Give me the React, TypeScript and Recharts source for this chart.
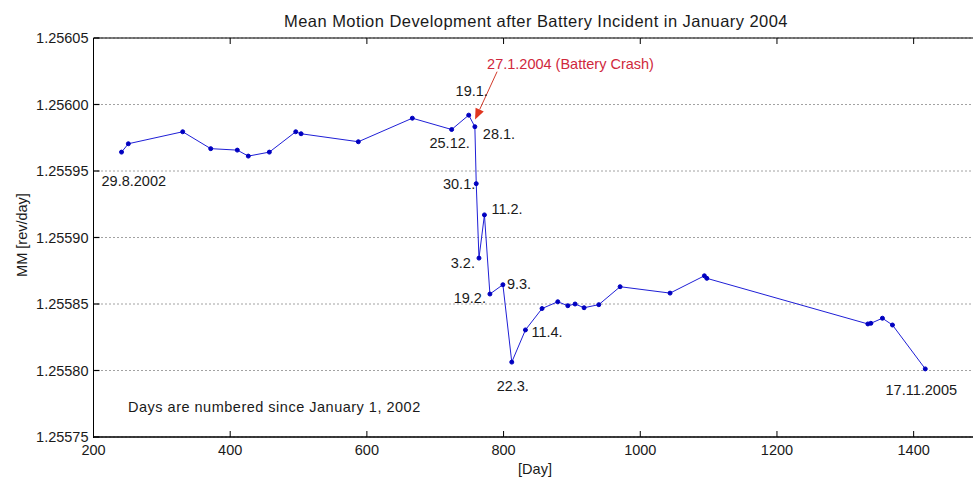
import React from "react";
import { LineChart, Line, XAxis, YAxis, CartesianGrid, LabelList, ReferenceLine } from "recharts";

// ---- data ----
const days = [
  241, 251, 330.5, 371.5, 410.4, 426.5, 457.3, 495.9, 503.7, 587.5, 666.5, 724,
  749, 758, 760, 764, 772, 780, 799, 812, 832, 856.3, 879.3, 894, 904.6, 917.8,
  939.3, 970.5, 1043.6, 1093.8, 1097.4, 1333, 1337.4, 1354.3, 1369, 1417,
];
const meanMotion = [
  1.2559642, 1.2559705, 1.2559795, 1.2559668, 1.2559657, 1.2559612, 1.2559642,
  1.2559795, 1.255978, 1.255972, 1.2559897, 1.2559812, 1.255992, 1.2559833,
  1.2559405, 1.2558845, 1.255917, 1.2558575, 1.2558645, 1.2558063, 1.2558305,
  1.2558466, 1.2558517, 1.2558487, 1.25585, 1.2558472, 1.2558495, 1.255863,
  1.2558582, 1.2558712, 1.2558693, 1.255835, 1.2558355, 1.2558393, 1.2558342,
  1.2558012,
];
const pointLabels = [
  "29.8.2002", "", "", "", "", "", "", "", "", "", "", "25.12.",
  "19.1.", "28.1.", "30.1.", "3.2.", "11.2.", "19.2.", "9.3.", "22.3.", "11.4.", "", "", "", "", "",
  "", "", "", "", "", "", "", "", "", "17.11.2005",
];
const xTicks = [200, 400, 600, 800, 1000, 1200, 1400];
const yTicks = [1.25575, 1.2558, 1.25585, 1.2559, 1.25595, 1.256, 1.25605];
const xDomain = [200, 1500];
const yDomain = [1.25575, 1.25605];
const crashArrow = [
  { x: 790.5, y: 1.2560247 },
  { x: 758.3, y: 1.2559887 },
];
const crashText = "27.1.2004 (Battery Crash)";
const titleText = "Mean Motion Development after Battery Incident in January 2004";
const xLabelText = "[Day]";
const yLabelText = "MM [rev/day]";
const noteText = "Days are numbered since January 1, 2002";

const data = days.map((d, i) => ({ day: d, mm: meanMotion[i], label: pointLabels[i] }));

// ---- styles / layout ----
const FONT = "'Liberation Sans', Arial, sans-serif";
const FS = 14.5;
const TXT = "#1a1a1a";
const AXIS = "#000";
const CHART_W = 1000;
const CHART_H = 477;
const MARGIN = { top: 38, right: 18, bottom: 0, left: 0 };
const Y_AXIS_W = 93.5;
const X_AXIS_H = 40;
const PLOT_W = CHART_W - MARGIN.right - Y_AXIS_W;
const PLOT_H = CHART_H - MARGIN.top - X_AXIS_H;
const TICK_PX = 6;
const xPerPx = (xDomain[1] - xDomain[0]) / PLOT_W;
const yPerPx = (yDomain[1] - yDomain[0]) / PLOT_H;

const labelOffsets: Record<string, [number, number, string]> = {
  "29.8.2002": [-20, 29, "start"],
  "25.12.": [-2, 13, "middle"],
  "19.1.": [3, -24, "middle"],
  "28.1.": [8, 7, "start"],
  "30.1.": [-1, 0, "end"],
  "3.2.": [-4, 5, "end"],
  "11.2.": [7, -6, "start"],
  "19.2.": [-4, 4, "end"],
  "9.3.": [4, -1, "start"],
  "22.3.": [1, 24, "middle"],
  "11.4.": [6, 2, "start"],
  "17.11.2005": [-4, 21, "middle"],
};

const BottomTick = (p: any) => (
  <text x={p.x} y={p.y + 13} textAnchor="middle" dominantBaseline="central" fontFamily={FONT} fontSize={FS} fill={TXT}>
    {p.payload.value}
  </text>
);
const LeftTick = (p: any) => (
  <text x={p.x - 5} y={p.y} textAnchor="end" dominantBaseline="central" fontFamily={FONT} fontSize={FS} fill={TXT}>
    {Number(p.payload.value).toFixed(5)}
  </text>
);

const PointLabel = (p: any) => {
  const v = p.value;
  if (!v) return null;
  const off = labelOffsets[v] || [0, 0, "middle"];
  return (
    <text
      x={p.x + off[0]}
      y={p.y + off[1]}
      textAnchor={off[2] as any}
      dominantBaseline="central"
      fontFamily={FONT}
      fontSize={FS}
      fill={TXT}
    >
      {v}
    </text>
  );
};

const ArrowShape = (p: any) => {
  const { x1, y1, x2, y2 } = p;
  if (x1 == null) return null;
  const dx = x2 - x1;
  const dy = y2 - y1;
  const len = Math.sqrt(dx * dx + dy * dy) || 1;
  const ux = dx / len;
  const uy = dy / len;
  const hl = 11;
  const hw = 4.5;
  const bx = x2 - ux * hl;
  const by = y2 - uy * hl;
  const pts = `${x2},${y2} ${bx - uy * hw},${by + ux * hw} ${bx + uy * hw},${by - ux * hw}`;
  return (
    <g>
      <line x1={x1} y1={y1} x2={bx} y2={by} stroke="#d23a2a" strokeWidth={1} />
      <polygon points={pts} fill="#e0351f" />
      <text x={x1 - 10} y={y1 - 8} dominantBaseline="central" fontFamily={FONT} fontSize={FS} fill="#d0283c">
        {crashText}
      </text>
    </g>
  );
};

export default function App() {
  return (
    <div style={{ position: "fixed", top: 0, left: 0, width: 973, height: 477, overflow: "hidden", background: "#fff" }}>
      <LineChart width={CHART_W} height={CHART_H} data={data} margin={MARGIN}>
        <CartesianGrid horizontal vertical={false} stroke="#444" strokeDasharray="1 3" />
        <XAxis
          dataKey="day"
          type="number"
          domain={xDomain}
          ticks={xTicks}
          height={X_AXIS_H}
          tickLine={false}
          tickSize={0}
          tickMargin={0}
          tick={<BottomTick />}
          axisLine={{ stroke: AXIS }}
          allowDataOverflow
        />
        <YAxis
          type="number"
          domain={yDomain}
          ticks={yTicks}
          width={Y_AXIS_W}
          tickLine={false}
          tickSize={0}
          tickMargin={0}
          tick={<LeftTick />}
          axisLine={{ stroke: AXIS }}
          allowDataOverflow
        />
        {/* frame */}
        <ReferenceLine y={yDomain[1]} stroke={AXIS} ifOverflow="visible" />
        <ReferenceLine y={yDomain[0]} stroke={AXIS} ifOverflow="visible" />
        {/* inward tick marks */}
        {xTicks.map((t) => (
          <ReferenceLine key={"xb" + t} segment={[{ x: t, y: yDomain[0] }, { x: t, y: yDomain[0] + TICK_PX * yPerPx }]} stroke={AXIS} ifOverflow="visible" />
        ))}
        {xTicks.map((t) => (
          <ReferenceLine key={"xt" + t} segment={[{ x: t, y: yDomain[1] }, { x: t, y: yDomain[1] - TICK_PX * yPerPx }]} stroke={AXIS} ifOverflow="visible" />
        ))}
        {yTicks.map((t) => (
          <ReferenceLine key={"yl" + t} segment={[{ x: xDomain[0] + 0.6 * xPerPx, y: t }, { x: xDomain[0] + TICK_PX * xPerPx, y: t }]} stroke={AXIS} strokeWidth={1.2} ifOverflow="visible" />
        ))}
        <Line
          dataKey="mm"
          stroke="#1f1fd6"
          strokeWidth={1}
          dot={{ r: 2, fill: "#0000c0", stroke: "#0000c0", strokeWidth: 1 }}
          isAnimationActive={false}
        >
          <LabelList dataKey="label" content={<PointLabel />} />
        </Line>
        <ReferenceLine segment={crashArrow} shape={<ArrowShape />} ifOverflow="visible" />
      </LineChart>
      {/* left frame edge */}
      <div style={{ position: "absolute", left: 93, top: MARGIN.top, width: 0, height: PLOT_H + 1, borderLeft: "1px solid #000" }} />
      <div style={{ position: "absolute", left: 536, top: 21, transform: "translate(-50%,-50%)", whiteSpace: "nowrap", fontFamily: FONT, fontSize: 16.5, letterSpacing: 0.45, color: TXT }}>
        {titleText}
      </div>
      <div style={{ position: "absolute", left: 535, top: 469, transform: "translate(-50%,-50%)", whiteSpace: "nowrap", fontFamily: FONT, fontSize: FS, color: TXT }}>
        {xLabelText}
      </div>
      <div style={{ position: "absolute", left: 22, top: 235, transform: "translate(-50%,-50%) rotate(-90deg)", whiteSpace: "nowrap", fontFamily: FONT, fontSize: FS, color: TXT }}>
        {yLabelText}
      </div>
      <div style={{ position: "absolute", left: 128, top: 407, transform: "translateY(-50%)", whiteSpace: "nowrap", fontFamily: FONT, fontSize: FS, letterSpacing: 0.5, color: TXT }}>
        {noteText}
      </div>
    </div>
  );
}
